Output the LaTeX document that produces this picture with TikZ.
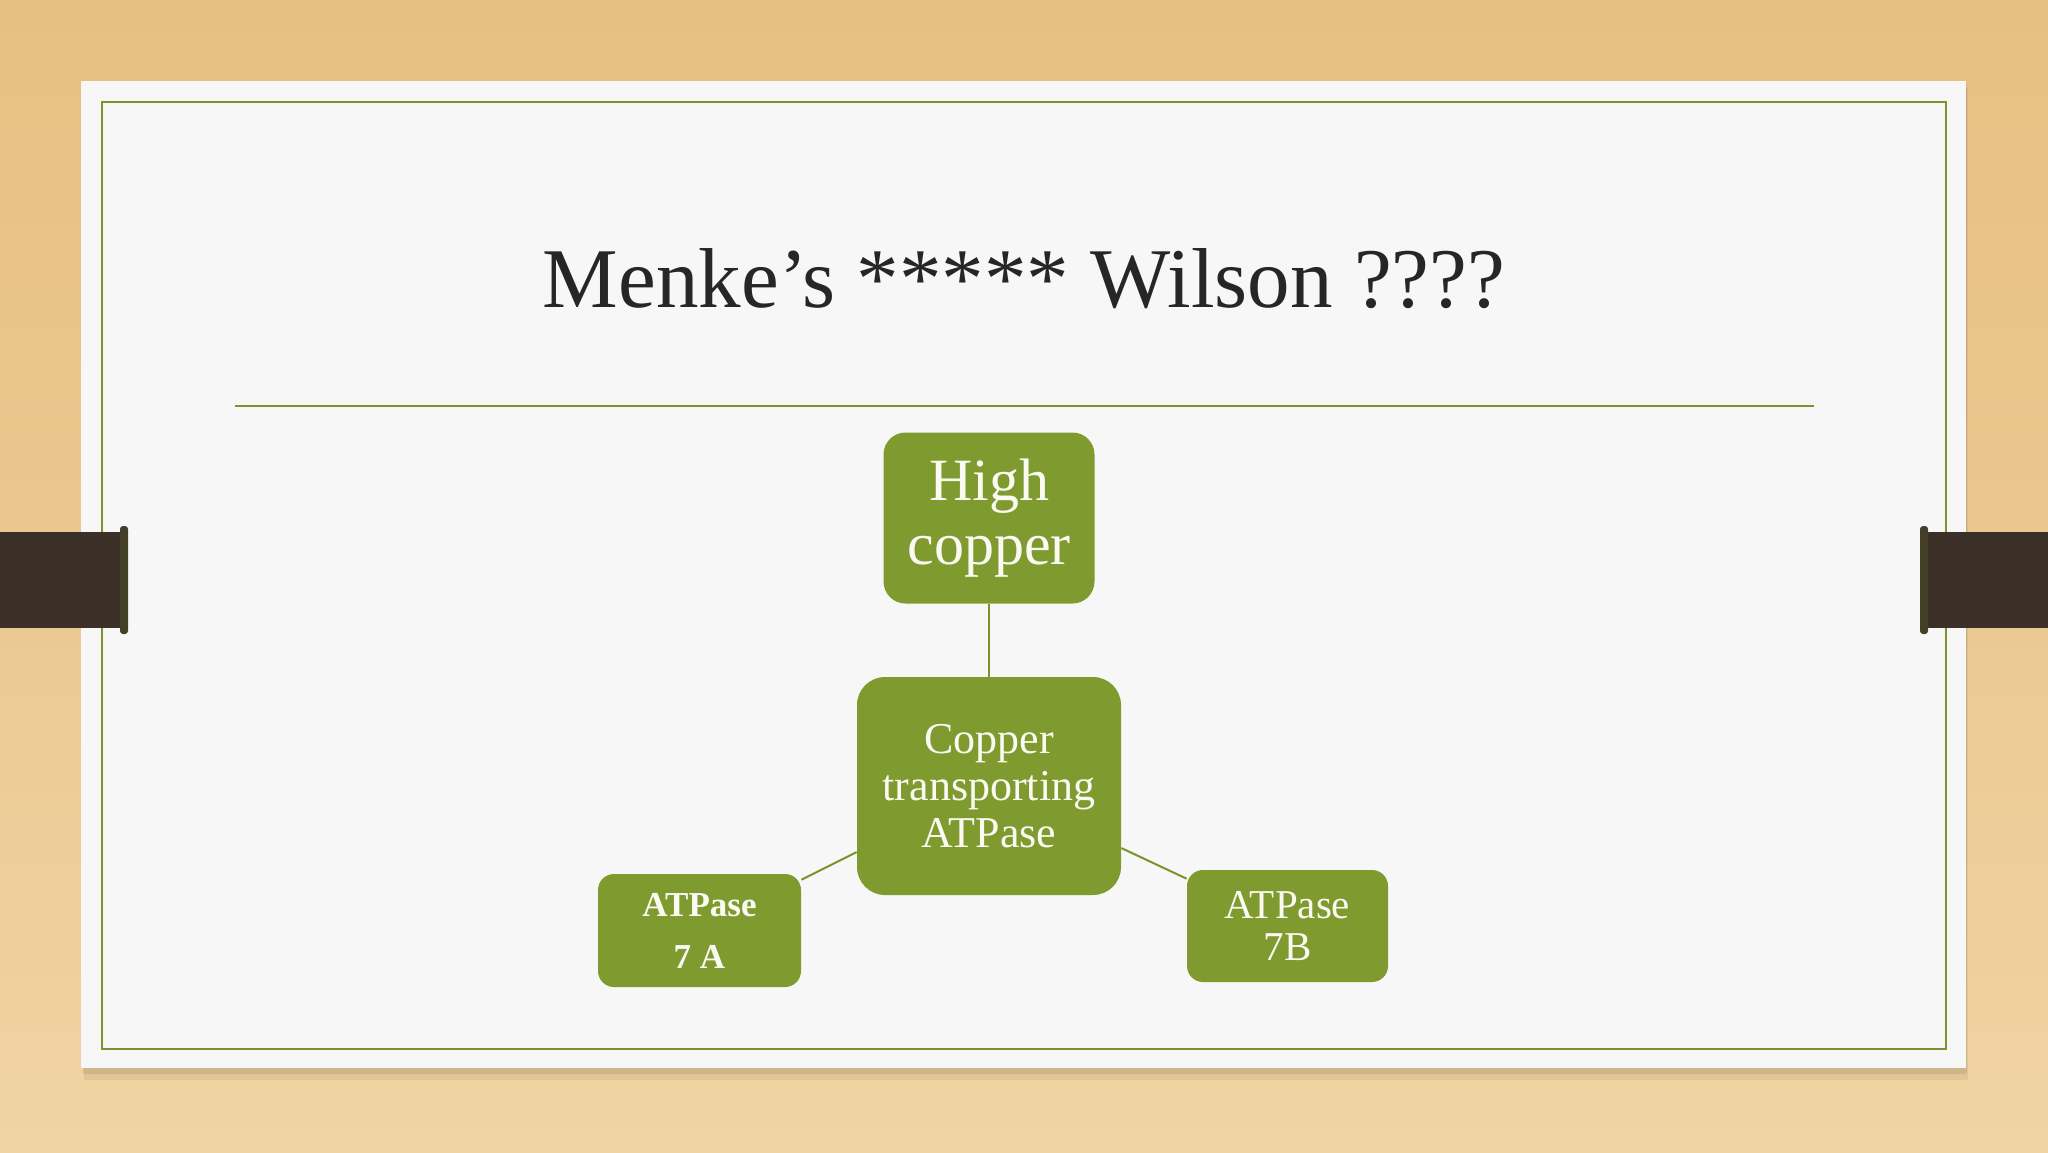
\documentclass[tikz,border=0pt]{standalone}
\usepackage{fontspec}
\setmainfont{Liberation Serif}
\definecolor{wood}{HTML}{EBC891}
\definecolor{woodlight}{HTML}{F0D4A3}
\definecolor{wooddark}{HTML}{E7BF82}
\definecolor{paper}{HTML}{F7F7F7}
\definecolor{olive}{HTML}{7F9A2E}
\definecolor{oliveline}{HTML}{7A942C}
\definecolor{strap}{HTML}{3A3027}
\definecolor{boxtext}{HTML}{FAFAF2}
\tikzset{
  gbox/.style={fill=olive, draw=none, text=boxtext, align=center, inner sep=2pt},
  link/.style={draw=oliveline, line width=1pt},
  strapcap/.style={fill=strap!85!olive, draw=none, rounded corners=1.5pt}
}
\begin{document}
\begin{tikzpicture}[x=0.5pt,y=-0.5pt]
\useasboundingbox (0,0) rectangle (2048,1152);
% wood background
\shade[top color=wooddark, bottom color=woodlight, middle color=wood] (0,0) rectangle (2048,1152);
% paper shadow
\fill[black, opacity=0.06] (84,88) rectangle (1968,1080);
\fill[black, opacity=0.08] (83,84) rectangle (1967,1074);
% paper
\fill[paper] (81,81) rectangle (1966,1068);
% inner border
\draw[oliveline, line width=1.2pt] (102,102) rectangle (1946,1049);
% straps
\fill[strap] (0,532) rectangle (127,628);
\fill[strapcap] (120,526) rectangle (128,634);
\fill[strap] (1921,532) rectangle (2048,628);
\fill[strapcap] (1920,526) rectangle (1928,634);
% title
\node[anchor=base, font=\fontsize{42.5}{50}\selectfont, text=black!85] (title) at (1024,307) {Menke’s ***** Wilson ????};
% rule
\coordinate (ruleL) at (235,406);
\coordinate (ruleR) at (1814,406);
\draw[oliveline, line width=1pt] (ruleL) -- (ruleR);
% nodes
\node[gbox, rounded corners=11pt, minimum width=105.5pt, minimum height=85.5pt,
      font=\fontsize{30}{32}\selectfont] (high) at (989,518) {High\\copper};
\node[gbox, rounded corners=14pt, minimum width=132pt, minimum height=109pt,
      font=\fontsize{22}{23.5}\selectfont] (core) at (989,786) {Copper\\transporting\\ATPase};
\node[gbox, rounded corners=8pt, minimum width=101.5pt, minimum height=56.5pt,
      font=\bfseries\fontsize{17.5}{26}\selectfont] (a7a) at (699.5,930.5) {ATPase\\7 A};
\node[gbox, rounded corners=8pt, minimum width=100.5pt, minimum height=56pt,
      font=\fontsize{20.5}{21}\selectfont] (a7b) at (1287.5,926) {ATPase\\7B};
% connectors
\draw[link] (high) -- (core);
\draw[link] (core) -- (a7a);
\draw[link] (core) -- (a7b);
\end{tikzpicture}
\end{document}
